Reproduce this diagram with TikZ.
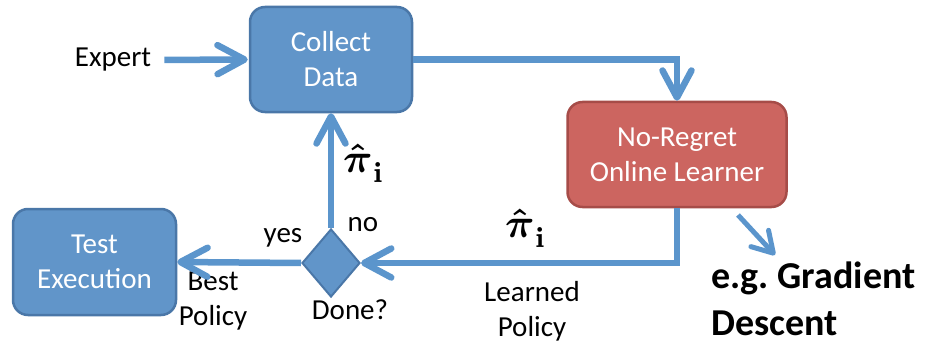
\documentclass[tikz,border=0pt]{standalone}
\usepackage{amsmath}
\usepackage{graphicx}
\usepackage[no-math]{fontspec}
\setmainfont{Carlito}
\usetikzlibrary{arrows.meta,shapes.geometric}

\definecolor{boxblue}{HTML}{6195C9}
\definecolor{boxblueedge}{HTML}{4A77A8}
\definecolor{boxred}{HTML}{CC6560}
\definecolor{boxrededge}{HTML}{A64C48}
\definecolor{flow}{HTML}{5B95CC}

% bold pi-hat with a bold upright subscript i
\newcommand{\pihati}{\scalebox{4.1}{$\boldsymbol{\hat{\pi}}_{\raisebox{-1pt}{$\scriptstyle\mathbf{i}$}}$}}

\tikzset{
  procbox/.style={draw=boxblueedge, fill=boxblue, line width=2.5pt,
    rounded corners=15pt, text=white, align=center, inner sep=0pt,
    font=\fontsize{29}{35}\selectfont},
  learnerbox/.style={procbox, draw=boxrededge, fill=boxred},
  decision/.style={diamond, draw=boxblueedge, fill=boxblue, line width=2pt,
    inner sep=0pt, minimum width=58pt, minimum height=68pt},
  lbl/.style={align=center, inner sep=0pt, font=\fontsize{29}{35}\selectfont},
  pilbl/.style={inner sep=0pt, anchor=base west},
  flowline/.style={draw=flow, line width=6.5pt,
    -{Straight Barb[length=27pt,width=29pt,round]}},
  thinflow/.style={draw=flow, line width=5pt,
    -{Straight Barb[length=20pt,width=24pt,round]}}
}

\begin{document}
\begin{tikzpicture}[x=1pt,y=-1pt]
  \useasboundingbox (0,0) rectangle (935,345);

  % process boxes
  \node[procbox, minimum width=162pt, minimum height=105pt] (collect) at (331,59.5) {Collect\\Data};
  \node[learnerbox, minimum width=219pt, minimum height=105pt] (learner) at (677,154.5) {No-Regret\\Online Learner};
  \node[procbox, minimum width=163pt, minimum height=106pt] (test) at (94.5,262) {Test\\Execution};
  \node[decision] (done) at (331,263) {};

  % labels
  \node[lbl] (expert) at (113,60) {Expert};
  \node[lbl] (no) at (363,225) {no};
  \node[lbl] (yes) at (283,238) {yes};
  \node[lbl] (best) at (213,301) {Best\\Policy};
  \node[lbl] (donelbl) at (350,310) {Done?};
  \node[lbl] (learned) at (532,311) {Learned\\Policy};
  \node[pilbl] (piup) at (343,172) {\pihati};
  \node[pilbl] (pilow) at (505,237) {\pihati};
  \node[align=left, anchor=base west, inner sep=0pt,
        font=\fontsize{38}{47}\selectfont\bfseries] (grad) at (711,335)
        {e.g.\ Gradient\\Descent};

  % connectors
  \coordinate (gradfrom) at (738,215);
  \coordinate (gradto) at (775,255);
  \draw[flowline, shorten <=13pt, shorten >=1pt] (expert.east) -- (collect.west);
  \draw[flowline] (collect.east) -| (learner.north);
  \draw[flowline] (learner.south) |- (done.east);
  \draw[flowline] (done.north) -- (collect.south);
  \draw[flowline] (done.west) -- (test.east);
  \draw[thinflow] (gradfrom) -- (gradto);
\end{tikzpicture}
\end{document}
